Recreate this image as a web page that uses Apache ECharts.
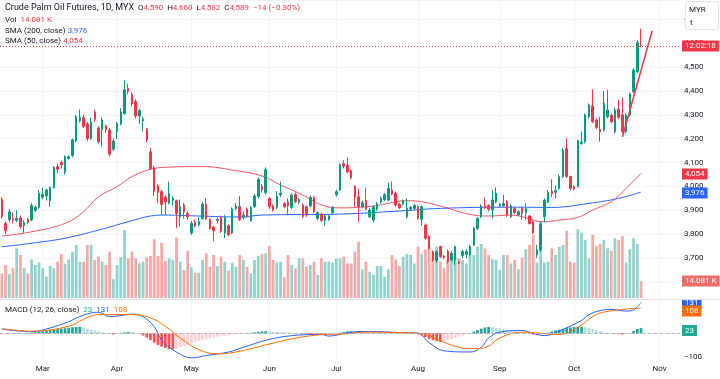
<!DOCTYPE html>
<html><head><meta charset="utf-8">
<script src="https://cdn.jsdelivr.net/npm/echarts@6/dist/echarts.min.js"></script>
<style>html,body{margin:0;padding:0;background:#fff}#c{width:720px;height:379px}</style>
</head><body><div id="c"></div>
<script>
// ---------- categories ----------
const holidays = ['2024-03-28','2024-04-10','2024-04-11','2024-05-01','2024-05-22','2024-06-03','2024-06-17','2024-07-08','2024-09-16'];
const monthNames = ['Jan','Feb','Mar','Apr','May','Jun','Jul','Aug','Sep','Oct','Nov','Dec'];
const firstDay = [2024,1,15], lastDay = [2024,10,8];

// ---------- OHLC (Feb 15 .. Oct 25, 2024) ----------
const open = [3945,3845,3860,3865,3858,3868,3836,3862,3860,3900,3912,
3955,3960,3940,3995,4082,4100,4060,4118,4130,4190,4275,4288,4262,4200,4312,4245,4238,4252,4236,4156,
4230,4262,4305,4410,4385,4355,4295,4275,4240,4145,4078,4002,3978,3955,3930,3942,3940,3873,3922,3887,
3805,3850,3840,3866,3925,3862,3830,3857,3870,3805,3835,3805,3908,3915,3870,3905,3857,3915,3958,4000,3975,
3950,3918,3912,3965,3928,3935,3912,3967,3935,3922,3915,3918,3954,3866,3884,3857,3862,3890,
3965,3985,4095,4088,4066,4002,3957,3915,3940,3873,3859,3905,3935,3945,3943,3985,3971,3926,3926,3873,3905,3908,
3915,3862,3838,3790,3727,3690,3748,3708,3727,3692,3692,3684,3710,3716,3713,3755,3824,3873,3920,3920,3901,3936,
3918,3920,3936,3873,3908,3880,3908,3890,3876,3852,3713,3734,3873,3935,3980,3975,3992,4041,4159,4041,
3999,3999,4180,4187,4292,4337,4278,4239,4236,4292,4299,4229,4323,4300,4229,4299,4397,4480,4590];
const close = [3875,3815,3894,3860,3866,3832,3848,3850,3920,3912,3972,
3966,3985,3995,4080,4072,4090,4125,4124,4195,4292,4290,4252,4200,4270,4280,4186,4278,4238,4135,4190,
4262,4312,4405,4398,4345,4295,4318,4282,4195,4075,3980,3975,3925,3935,3970,3950,3887,3915,3894,3873,
3845,3835,3852,3926,3865,3825,3815,3862,3812,3870,3798,3905,3918,3862,3880,3873,3912,3960,4030,3985,4070,
3915,3902,3957,3972,3915,3918,3964,3936,3945,3873,3880,3954,3894,3890,3857,3876,3876,3912,
3978,4092,4085,4062,4036,3955,3915,3932,3905,3901,3915,3928,3950,3965,3992,3968,3922,3912,3940,3908,3912,3920,
3866,3915,3783,3741,3692,3727,3706,3702,3685,3720,3748,3680,3727,3727,3748,3824,3866,3918,3910,3905,3943,3971,
3925,3928,3880,3918,3890,3894,3887,3908,3845,3806,3734,3842,3943,3975,3970,3982,4041,4152,4041,3992,
3990,4191,4185,4299,4341,4271,4247,4229,4348,4320,4271,4320,4289,4230,4299,4387,4487,4602,4589];
const high = [3955,3852,3905,3890,3900,3878,3858,3868,3930,3920,3985,
3995,3990,4000,4085,4095,4108,4130,4130,4200,4300,4322,4300,4270,4288,4322,4252,4288,4258,4245,4200,
4270,4328,4445,4430,4395,4365,4325,4292,4245,4162,4085,4010,3985,3962,4020,3960,3945,3945,3930,3895,
3855,3860,3870,3935,3950,3868,3835,3870,3878,3880,3842,3912,3930,3960,3895,3912,3918,3968,4038,4010,4080,
3955,3925,3980,4020,3935,3950,3972,3975,3952,3930,3920,3962,3960,3895,3890,3882,3880,3918,
3985,4096,4110,4122,4070,4005,3990,3940,3995,3908,3920,3935,3958,3972,4016,4020,3978,3930,3945,3950,3918,3925,
3920,3920,3845,3795,3732,3732,3752,3712,3735,3730,3752,3690,3735,3738,3755,3830,3872,3925,3955,3925,3985,3996,
3930,3965,3942,3925,3915,3900,3915,3930,3880,3858,3755,3850,3950,3985,4030,4005,4050,4160,4201,4045,
4005,4195,4230,4305,4348,4406,4285,4292,4400,4404,4305,4330,4362,4372,4305,4392,4495,4612,4660];
const low = [3865,3800,3850,3845,3850,3822,3806,3842,3855,3893,3905,
3945,3940,3915,3990,4055,4075,4050,4112,4122,4185,4268,4245,4190,4195,4270,4180,4166,4225,4125,4148,
4198,4255,4300,4385,4335,4285,4262,4230,4185,4070,3960,3930,3880,3880,3925,3920,3825,3832,3865,3860,
3797,3828,3832,3860,3860,3818,3770,3845,3805,3783,3792,3800,3900,3855,3862,3868,3852,3910,3950,3975,3965,
3905,3895,3905,3955,3908,3880,3905,3930,3925,3868,3872,3912,3888,3858,3850,3835,3855,3885,
3958,3980,4075,4055,4030,3915,3852,3908,3900,3868,3850,3898,3928,3938,3938,3962,3915,3905,3920,3866,3900,3900,
3860,3835,3775,3735,3685,3680,3700,3695,3678,3685,3670,3675,3700,3700,3708,3750,3818,3868,3905,3895,3866,3930,
3912,3915,3872,3868,3885,3875,3860,3860,3840,3800,3700,3725,3850,3930,3956,3950,3985,4035,4035,3985,
3985,3995,4175,4180,4285,4265,4240,4187,4230,4285,4265,4222,4282,4222,4222,4292,4390,4475,4582];

// ---------- Volume (thousands) ----------
const volumeK = [20.4,27.3,19.9,24.6,41.1,35.6,24.6,20.4,32,27.3,29.5,
24.6,17.7,26.5,24.6,30.1,36.4,28.2,32,38.4,43.9,30.1,30.1,43.9,43.9,31.5,34.2,30.1,27.3,38.4,15.5,
27.3,33.7,56.3,32.8,38.4,32.8,28.7,30.1,33.7,34.8,48.6,34.8,45.8,30.9,32.8,31.5,50.2,30.1,23.2,39.2,
25.4,21,21,31.5,37,25.9,35.6,26.5,34.2,30.1,22.6,29.3,25.9,35.6,31.5,25.9,20.4,31.5,34.8,36.4,37,
43.1,31.5,29.3,30.1,17.1,35.6,27.3,24.6,32.8,32.8,25.9,27.3,30.1,19,32.8,30.1,30.1,29.3,
32.8,32.8,34.2,28.7,28.7,38.4,46.6,23.7,30.1,21.8,19,26.5,26.5,17.7,23.7,35.6,32,26.5,34.2,36.4,35.6,28.7,
42.5,36.4,40.3,42.5,32.8,42.5,30.1,24.6,31.5,31.5,34.2,32.8,31.5,28.7,34.8,35.6,42.5,44.7,41.1,35.6,32,31.5,
23.2,35.6,35.6,28.7,31.5,23.7,33.4,40.3,43.9,52.2,29.3,63.2,29.3,30.1,41.1,35.6,42.5,43.9,55.7,30.1,
29.3,56.9,54.1,48,32.8,52.2,43.1,44.7,48,41.1,39.2,49.4,48,51.3,29.3,40.3,49.4,44.7,14.081];

// ---------- Moving averages (read at selected bars) ----------
const sma200Idx = [0,9,17,26,34,40,44,53,64,70,91,107,118,137,148,158,166,172];
const sma200Val = [3747,3764,3783,3817,3852,3876,3880,3876,3872,3880,3884,3897,3908,3913,3912,3929,3950,3976];
const sma50Idx = [0,8,17,22,26,31,35,40,44,54,63,70,75,81,86,91,100,109,113,118,127,131,137,146,150,155,159,164,168,172];
const sma50Val = [3792,3810,3845,3894,3957,3999,4041,4072,4080,4083,4066,4044,4006,3964,3922,3910,3918,3940,3936,3918,3880,3876,3880,3852,3859,3870,3901,3936,3992,4054];
const trendIdx = [167,175];
const trendVal = [4207,4652];

// ---------- MACD ----------
const macdHist = [-6,-5,-4,-3,-2,-1,1,2,3,5,7,
9,12,14,17,18,20,22,24,26,27,28,24,20,16,12,8,5,2,-2,-5,
-3,2,4,6,5,3,-2,-9,-18,-29,-40,-50,-57,-63,-67,-69,-66,-60,-54,-48,
-42,-36,-32,-28,-24,-20,-17,-14,-12,-10,-8,-6,-4,-2,-1,0,2,4,6,8,9,
8,7,6,5,4,3,2,1,0,-1,-2,-3,-4,-5,-6,-7,-6,-4,
-2,3,6,8,9,7,5,3,2,1,0,1,1,1,0,0,-1,-1,-2,-2,-2,-1,
-4,-9,-16,-24,-30,-34,-36,-33,-29,-24,-19,-14,-9,-4,1,7,14,20,25,27,26,24,
21,18,14,11,8,5,3,1,-2,-6,-8,-5,-2,3,8,12,15,19,23,25,
27,28,28,26,22,18,14,10,6,3,0,-2,-4,-5,-3,1,10,18,23];
const macdIdx = [0,8,13,18,22,26,29,33,35,38,41,43,47,51,55,61,65,71,78,86,88,94,99,107,112,115,119,126,129,131,134,140,142,146,150,156,158,161,164,168,170,172];
const macdVal = [18,7,23,50,78,90,71,78,82,71,28,-29,-80,-105,-95,-80,-60,-30,-10,-5,-12,5,8,3,0,-40,-75,-80,-60,-20,5,12,5,-10,10,55,80,97,102,95,100,131];
const signalIdx = [0,8,18,22,26,31,35,40,44,48,53,58,63,68,74,80,86,92,98,105,111,114,117,121,125,128,131,134,140,145,150,155,160,165,172];
const signalVal = [20,9,30,60,80,80,80,66,30,-20,-70,-88,-80,-62,-38,-18,-6,-3,5,4,1,-4,-25,-50,-65,-65,-55,-20,5,0,-5,25,80,98,108];

// ---------- build ----------
const dates = [];
for (let d = new Date(Date.UTC(...firstDay)); d.getTime() <= Date.UTC(...lastDay); d.setUTCDate(d.getUTCDate() + 1)) {
  const wd = d.getUTCDay();
  if (wd === 0 || wd === 6) continue;
  const s = d.toISOString().slice(0, 10);
  if (holidays.includes(s)) continue;
  dates.push(s);
}
const monthOf = s => +s.slice(5, 7) - 1;
const isMonthStart = i => i > 0 && monthOf(dates[i]) !== monthOf(dates[i - 1]);

const UP = '#089981', DN = '#F23645';
const FONT = 'Roboto, "Noto Sans", sans-serif';
const pairs = (a, b) => a.map((x, i) => [x, b[i]]);

const candleData = open.map((o, i) => [o, close[i], low[i], high[i]]);
const volData = volumeK.map((v, i) => ({ value: v, itemStyle: { color: close[i] >= open[i] ? '#92D2CC' : '#F7A9A7' } }));
const histData = macdHist.map((v, i) => {
  const p = i > 0 ? macdHist[i - 1] : v;
  let c;
  if (v >= 0) c = v >= p ? '#26A69A' : '#B2DFDB';
  else c = v < p ? '#FF5252' : '#FFCDD2';
  return { value: v, itemStyle: { color: c } };
});

const monthAxisCommon = {
  type: 'category', data: dates, boundaryGap: true,
  axisTick: { show: false },
};

function tag(text, y, bg, fg) {
  return { type: 'text', x: 682, y: y, z: 100,
    style: { text: text, fill: fg || '#fff', font: '8px ' + FONT, backgroundColor: bg,
      padding: [2, 3, 1, 3], verticalAlign: 'middle', align: 'left' } };
}
const f = (s) => s + 'px ' + FONT;
const rt = { h: { fill: '#131722', font: f(9) }, t: { fill: '#131722', font: f(8) }, v: { fill: DN, font: f(8) },
  b: { fill: '#2962FF', font: f(8) }, g: { fill: '#22AB94', font: f(8) }, o: { fill: '#FF6D00', font: f(8) },
  s: { width: 4 }, s2: { width: 2 } };

const chart = echarts.init(document.getElementById('c'), null, { renderer: 'canvas' });
chart.setOption({
  animation: false,
  backgroundColor: '#ffffff',
  grid: [
    { left: 0, top: 0, width: 680, height: 299 },   // price
    { left: 0, top: 0, width: 680, height: 298 },   // volume
    { left: 0, top: 300, width: 680, height: 61 }   // macd
  ],
  xAxis: [
    Object.assign({ gridIndex: 0, show: false }, monthAxisCommon),
    Object.assign({ gridIndex: 1, axisLine: { show: false }, axisLabel: { show: false },
      splitLine: { show: true, alignWithLabel: true, interval: (i) => isMonthStart(i), lineStyle: { color: '#F0F3FA', width: 1 } } }, monthAxisCommon),
    Object.assign({ gridIndex: 2, axisLine: { show: true, lineStyle: { color: '#E0E3EB' } },
      axisLabel: { show: true, interval: (i) => isMonthStart(i), formatter: (v) => monthNames[monthOf(v)],
        color: '#131722', fontSize: 8, fontFamily: FONT, margin: 4 },
      splitLine: { show: true, alignWithLabel: true, interval: (i) => isMonthStart(i), lineStyle: { color: '#F0F3FA', width: 1 } } }, monthAxisCommon)
  ],
  yAxis: [
    { gridIndex: 0, type: 'value', position: 'right', min: 3528.5, max: 4780.6, splitNumber: 12, scale: true,
      axisLine: { show: false }, axisTick: { show: false },
      axisLabel: { color: '#131722', fontSize: 8, fontFamily: FONT, align: 'left', margin: 4,
        formatter: v => (Math.abs(v % 100) < 1e-6 ? v.toLocaleString('en-US') : '') },
      splitLine: { show: true, lineStyle: { color: '#F0F3FA', width: 1 } } },
    { gridIndex: 1, type: 'value', min: 0, max: 246.7, show: false },
    { gridIndex: 2, type: 'value', position: 'right', min: -118.4, max: 142.3, splitNumber: 3,
      axisLine: { show: false }, axisTick: { show: false },
      axisLabel: { color: '#131722', fontSize: 8, fontFamily: FONT, align: 'left', margin: 4,
        formatter: v => (Math.abs(v % 100) < 1e-6 ? String(v).replace('-', '\u2212') : '') },
      splitLine: { show: false } }
  ],
  series: [
    { type: 'bar', name: 'Vol', xAxisIndex: 1, yAxisIndex: 1, data: volData, barWidth: '74%', z: 1 },
    { type: 'line', name: 'SMA200', xAxisIndex: 0, yAxisIndex: 0, data: pairs(sma200Idx, sma200Val),
      smooth: 0.4, showSymbol: false, lineStyle: { color: '#2962FF', width: 1 }, z: 3 },
    { type: 'line', name: 'SMA50', xAxisIndex: 0, yAxisIndex: 0, data: pairs(sma50Idx, sma50Val),
      smooth: 0.4, showSymbol: false, lineStyle: { color: '#F23645', width: 1, opacity: 0.85 }, z: 3 },
    { type: 'candlestick', xAxisIndex: 0, yAxisIndex: 0, data: candleData, barWidth: 2, z: 4,
      itemStyle: { color: UP, color0: DN, borderColor: UP, borderColor0: DN, borderWidth: 1 },
      markLine: { silent: true, symbol: ['none', 'none'], label: { show: false },
        lineStyle: { color: DN, type: [1, 2], width: 1 }, data: [{ yAxis: close[close.length - 1] }] } },
    { type: 'line', name: 'Trend', xAxisIndex: 0, yAxisIndex: 0, data: pairs(trendIdx, trendVal),
      showSymbol: false, lineStyle: { color: '#F23645', width: 1.5 }, z: 5 },
    { type: 'bar', name: 'Hist', xAxisIndex: 2, yAxisIndex: 2, data: histData, barWidth: '74%', z: 2,
      markLine: { silent: true, symbol: ['none', 'none'], label: { show: false },
        lineStyle: { color: '#B2B5BE', type: [3, 3], width: 1 }, data: [{ yAxis: 0 }] } },
    { type: 'line', name: 'MACD', xAxisIndex: 2, yAxisIndex: 2, data: pairs(macdIdx, macdVal),
      smooth: 0.4, showSymbol: false, lineStyle: { color: '#2962FF', width: 1 }, z: 3 },
    { type: 'line', name: 'Signal', xAxisIndex: 2, yAxisIndex: 2, data: pairs(signalIdx, signalVal),
      smooth: 0.4, showSymbol: false, lineStyle: { color: '#FF6D00', width: 1 }, z: 3 }
  ],
  graphic: [
    tag('131', 302.5, '#2962FF'),
    { type: 'rect', z: 101, shape: { x: 680, y: 290, width: 40, height: 9 }, style: { fill: '#fff' } },
    { type: 'line', z: 102, shape: { x1: 0, y1: 299.5, x2: 720, y2: 299.5 }, style: { stroke: '#E0E3EB', lineWidth: 1 } },
    { type: 'text', x: 5, y: 8, z: 100, style: { text: '{h|Crude Palm Oil Futures, 1D, MYX}{s| }{t|O}{v|4,590}{s| }{t|H}{v|4,660}{s| }{t|L}{v|4,582}{s| }{t|C}{v|4,589}{s| }{v|\u221214 (\u22120.30%)}',
      verticalAlign: 'middle', rich: rt } },
    { type: 'text', x: 5, y: 19.5, z: 100, style: { text: '{t|Vol}{s| }{v|14.081 K}', verticalAlign: 'middle', rich: rt } },
    { type: 'text', x: 5, y: 30.5, z: 100, style: { text: '{t|SMA (200, close)}{s2| }{b|3,976}', verticalAlign: 'middle', rich: rt } },
    { type: 'text', x: 5, y: 41, z: 100, style: { text: '{t|SMA (50, close)}{s2| }{v|4,054}', verticalAlign: 'middle', rich: rt } },
    { type: 'text', x: 5, y: 309.5, z: 100, style: { text: '{t|MACD (12, 26, close)}{s| }{g|23}{s| }{b|131}{s| }{o|108}', verticalAlign: 'middle', rich: rt } },
    { type: 'rect', z: 99, shape: { x: 685.5, y: 1.5, width: 33, height: 28, r: 3 }, style: { fill: '#fff', stroke: '#E0E3EB', lineWidth: 1 } },
    { type: 'text', x: 689, y: 10, z: 100, style: { text: 'MYR', fill: '#131722', font: f(8), verticalAlign: 'middle' } },
    { type: 'text', x: 690, y: 23, z: 100, style: { text: 't', fill: '#131722', font: f(8), verticalAlign: 'middle' } },
    tag('12:02:18', 46, '#F23645'),
    tag('4,054', 174, '#F23645'),
    tag('3,976', 193, '#2962FF'),
    tag('14.081 K', 281, '#F26B6B'),
    tag('108', 311, '#FF6D00'),
    tag('23', 330.5, '#22AB94')
  ]
});
</script></body></html>
